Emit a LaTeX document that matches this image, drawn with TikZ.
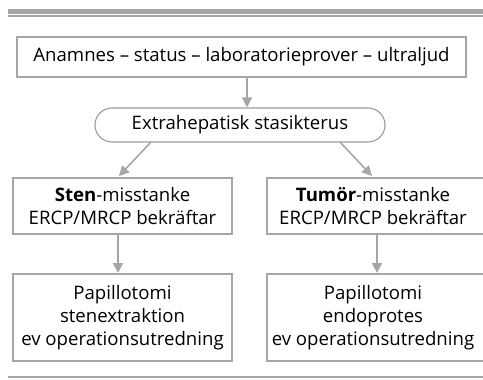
\documentclass[tikz,border=0pt]{standalone}
\usepackage{fontspec}
\setmainfont{Open Sans}
\usetikzlibrary{arrows.meta,shapes.misc}
\definecolor{lgray}{HTML}{A6A6A6}
\definecolor{egray}{HTML}{9A9A9A}
\tikzset{
  box/.style={draw=lgray, line width=2pt, inner sep=0pt},
  txt/.style={align=center, font=\fontsize{18.6}{23}\selectfont, inner sep=0pt},
  pill/.style={draw=egray, line width=1.1pt, rounded rectangle, minimum width=290pt, minimum height=34pt, inner sep=0pt, font=\fontsize{18.6}{23}\selectfont},
  arr/.style={draw=lgray, line width=1.6pt, -{Triangle[width=10pt,length=10pt]}, fill=lgray},
  rule/.style={draw=lgray}
}
\begin{document}
\begin{tikzpicture}[x=1pt,y=-1pt]
\useasboundingbox (0,0) rectangle (483,380);
\clip (0,0) rectangle (483,380);
% rules
\coordinate (r1a) at (8,11.5); \coordinate (r1b) at (490,11.5);
\draw[rule, line width=5pt] (r1a) -- (r1b);
\coordinate (r2a) at (8,16); \coordinate (r2b) at (490,16);
\draw[rule, line width=1.2pt] (r2a) -- (r2b);
\coordinate (r3a) at (8,377); \coordinate (r3b) at (490,377);
\draw[rule, line width=2.2pt] (r3a) -- (r3b);
% top box
\node[box, minimum width=449pt, minimum height=40pt, txt] (top) at (241.5,57) {Anamnes – status – laboratorieprover – ultraljud};
% pill
\node[pill] (pill) at (240,125) {Extrahepatisk stasikterus};
% sten box
\node[box, minimum width=219pt, minimum height=56pt, anchor=north west] (sten) at (12,177) {};
\node[txt] (stent) at (sten.center) {\textbf{Sten}-misstanke\\ERCP/MRCP bekräftar};
% tumor box
\node[box, minimum width=226pt, minimum height=56pt, anchor=north west] (tumor) at (266,177) {};
\node[txt] (tumort) at ([xshift=-7pt]tumor.center) {\textbf{Tumör}-misstanke\\ERCP/MRCP bekräftar};
% bottom boxes
\node[box, minimum width=219pt, minimum height=87pt, anchor=north west] (pl) at (12,273) {};
\node[txt] (plt) at (pl.center) {Papillotomi\\stenextraktion\\ev operationsutredning};
\node[box, minimum width=226pt, minimum height=87pt, anchor=north west] (pr) at (266,273) {};
\node[txt] (prt) at ([xshift=-7pt]pr.center) {Papillotomi\\endoprotes\\ev operationsutredning};
% arrows
\draw[arr] (top.south -| 247,0) -- (pill.north -| 247,0);
\draw[arr] (151,142) -- (119,176);
\draw[arr] (340,142) -- (372,176);
\draw[arr] (sten.south -| 118,0) -- (pl.north -| 118,0);
\draw[arr] (tumor.south -| 377,0) -- (pr.north -| 377,0);
\end{tikzpicture}
\end{document}
